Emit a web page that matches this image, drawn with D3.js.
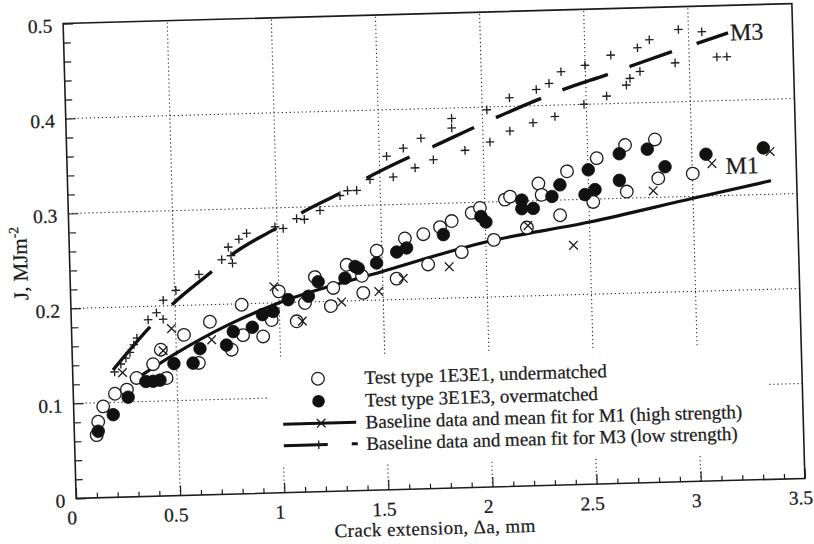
<!DOCTYPE html>
<html><head><meta charset="utf-8">
<script src="https://cdn.jsdelivr.net/npm/d3@7"></script>
<style>
body{margin:0;background:#fff}
svg{display:block}
text{font-family:"Liberation Serif","Times New Roman",serif;fill:#1c1c1c;stroke:#1c1c1c;stroke-width:0.25px}
</style>
</head><body>
<svg id="c" width="814" height="544"></svg>
<script>
// ---- tick labels ----
const xTicks=[0,0.5,1,1.5,2,2.5,3,3.5];
const xTickLabels=["0","0.5","1","1.5","2","2.5","3","3.5"];
const yTicks=[0,0.1,0.2,0.3,0.4,0.5];
const yTickLabels=["0","0.1","0.2","0.3","0.4","0.5"];
const xGrid=[0.5,1,1.5,2,2.5,3];
const yGrid=[0.1,0.2,0.3,0.4];

// ---- series: [crack extension mm, J MJ/m2] ----
const underMatched=[[0.107,0.066],[0.116,0.080],[0.142,0.096],[0.200,0.109],[0.258,0.113],[0.306,0.125],[0.387,0.139],[0.426,0.154],[0.450,0.124],[0.539,0.169],[0.607,0.139],[0.665,0.182],[0.766,0.152],[0.820,0.199],[0.823,0.167],[0.919,0.165],[0.962,0.182],[1.000,0.212],[1.082,0.180],[1.124,0.199],[1.175,0.226],[1.248,0.195],[1.262,0.214],[1.329,0.238],[1.405,0.208],[1.401,0.226],[1.475,0.252],[1.567,0.222],[1.612,0.264],[1.701,0.268],[1.720,0.236],[1.782,0.275],[1.839,0.281],[1.883,0.248],[1.936,0.289],[1.976,0.294],[2.039,0.260],[2.097,0.302],[2.122,0.305],[2.199,0.272],[2.260,0.318],[2.274,0.306],[2.360,0.284],[2.399,0.330],[2.521,0.297],[2.543,0.343],[2.681,0.356],[2.683,0.307],[2.825,0.361],[2.836,0.320],[3.002,0.324]];
const overMatched=[[0.115,0.070],[0.189,0.087],[0.263,0.105],[0.350,0.121],[0.385,0.121],[0.418,0.122],[0.487,0.139],[0.579,0.139],[0.614,0.154],[0.742,0.157],[0.776,0.171],[0.868,0.175],[0.918,0.188],[0.970,0.191],[1.044,0.203],[1.141,0.206],[1.190,0.221],[1.319,0.224],[1.369,0.236],[1.384,0.234],[1.473,0.239],[1.571,0.250],[1.619,0.254],[1.797,0.267],[1.980,0.285],[2.003,0.279],[2.178,0.301],[2.177,0.292],[2.232,0.292],[2.323,0.304],[2.363,0.316],[2.501,0.331],[2.482,0.305],[2.531,0.310],[2.652,0.347],[2.649,0.319],[2.787,0.351],[2.870,0.332],[3.068,0.344],[3.344,0.349]];
const baselineM1=[[0.239,0.131],[0.437,0.153],[0.480,0.176],[0.671,0.163],[0.977,0.217],[1.109,0.180],[1.300,0.199],[1.480,0.209],[1.599,0.222],[1.821,0.233],[2.204,0.274],[2.420,0.252],[2.810,0.307],[3.095,0.334],[3.376,0.345]];
const baselineM3=[[0.201,0.132],[0.232,0.140],[0.257,0.146],[0.277,0.152],[0.297,0.160],[0.313,0.167],[0.369,0.186],[0.410,0.193],[0.441,0.186],[0.444,0.206],[0.506,0.216],[0.619,0.232],[0.730,0.247],[0.763,0.260],[0.775,0.251],[0.781,0.243],[0.815,0.268],[0.853,0.274],[0.990,0.280],[1.029,0.278],[1.095,0.288],[1.132,0.287],[1.208,0.296],[1.306,0.311],[1.343,0.316],[1.387,0.316],[1.452,0.327],[1.535,0.351],[1.564,0.329],[1.616,0.359],[1.670,0.338],[1.702,0.369],[1.759,0.346],[1.852,0.389],[1.851,0.379],[1.912,0.355],[2.022,0.397],[2.033,0.363],[2.132,0.409],[2.130,0.374],[2.242,0.382],[2.262,0.417],[2.324,0.423],[2.348,0.388],[2.383,0.435],[2.499,0.441],[2.489,0.400],[2.599,0.408],[2.624,0.451],[2.695,0.419],[2.713,0.426],[2.762,0.433],[2.753,0.458],[2.811,0.466],[2.932,0.441],[2.952,0.476],[3.064,0.473],[3.133,0.446],[3.181,0.446]];
const fitM1=[[0.31,0.125],[0.5,0.150],[0.75,0.178],[1.0,0.200],[1.5,0.230],[2.0,0.258],[2.5,0.276],[3.0,0.298],[3.37,0.314]];
const fitM3=[[0.194,0.134],[0.376,0.178],[0.485,0.201],[0.682,0.235],[0.78,0.252],[1.0,0.279],[1.12,0.294],[1.31,0.314],[1.44,0.329],[1.65,0.350],[1.76,0.360],[1.96,0.379],[2.07,0.389],[2.29,0.408],[2.39,0.416],[2.61,0.431],[2.72,0.439],[2.92,0.453],[3.04,0.461],[3.19,0.471]];
const legendLabels=["Test type 1E3E1, undermatched","Test type 3E1E3, overmatched","Baseline data and mean fit for M1 (high strength)","Baseline data and mean fit for M3 (low strength)"];
const curveLabels=[{t:"M3",x:3.199,y:0.463},{t:"M1",x:3.16,y:0.3226}];

// ---- layout ----
const m={l:69.5,t:13.5,w:729,h:475};
const ink="#1c1c1c";
const svg=d3.select("#c");
svg.append("rect").attr("width",814).attr("height",544).attr("fill","#fff");
const g=svg.append("g").attr("transform","rotate(-1.57,434,251)");
const x=d3.scaleLinear().domain([0,3.5]).range([m.l,m.l+m.w]);
const y=d3.scaleLinear().domain([0,0.5]).range([m.t+m.h,m.t]);

// grid
const grid=g.append("g").attr("stroke","#333").attr("stroke-width",1.1).attr("stroke-dasharray","1.3,2.7");
grid.selectAll("line.v").data(xGrid).join("line").attr("x1",d=>x(d)).attr("x2",d=>x(d)).attr("y1",y(0)).attr("y2",y(0.5));
grid.selectAll("line.h").data(yGrid).join("line").attr("y1",d=>y(d)).attr("y2",d=>y(d)).attr("x1",x(0)).attr("x2",x(3.5));

// legend blank area (covers grid)
g.append("rect").attr("x",x(0.93)).attr("y",y(0.143)).attr("width",x(3.33)-x(0.93)).attr("height",y(0.0275)-y(0.143)).attr("fill","#fff");

// axes ticks
const minorX=d3.range(0,35.5,1).map(d=>d/10).filter(d=>Math.abs(d*2-Math.round(d*2))>1e-6);
const minorY=d3.range(0,25.5,1).map(d=>d/50).filter(d=>Math.abs(d*10-Math.round(d*10))>1e-6);
function styleAxis(sel){sel.select(".domain").remove();sel.selectAll("line").attr("stroke",ink).attr("stroke-width",1.2);}
g.append("g").attr("transform",`translate(0,${y(0)})`).call(d3.axisBottom(x).tickValues(minorX).tickSize(-5).tickFormat("")).call(styleAxis);
g.append("g").attr("transform",`translate(${x(0)},0)`).call(d3.axisLeft(y).tickValues(minorY).tickSize(-7).tickFormat("")).call(styleAxis);
const xa=g.append("g").attr("transform",`translate(0,${y(0)})`).call(d3.axisBottom(x).tickValues(xTicks).tickSize(-10).tickPadding(12).tickFormat((d,i)=>xTickLabels[i])).call(styleAxis);
xa.selectAll("text").attr("font-size",19.5).attr("fill",ink).attr("dx",-5).attr("font-family","Liberation Serif");
const ya=g.append("g").attr("transform",`translate(${x(0)},0)`).call(d3.axisLeft(y).tickValues(yTicks).tickSize(-10).tickPadding(11).tickFormat((d,i)=>yTickLabels[i])).call(styleAxis);
ya.selectAll("text").attr("font-size",19.5).attr("fill",ink).attr("dy","0.42em").attr("font-family","Liberation Serif");

// frame
g.append("rect").attr("x",x(0)).attr("y",y(0.5)).attr("width",x(3.5)-x(0)).attr("height",y(0)-y(0.5)).attr("fill","none").attr("stroke",ink).attr("stroke-width",1.6);

// fit lines
const line=d3.line().x(d=>x(d[0])).y(d=>y(d[1])).curve(d3.curveMonotoneX);
g.append("path").datum(fitM1).attr("d",line).attr("fill","none").attr("stroke","#111").attr("stroke-width",3.2).attr("stroke-linecap","round");
g.append("path").datum(fitM3).attr("d",line).attr("fill","none").attr("stroke","#111").attr("stroke-width",3.4)
 .attr("stroke-dasharray","57,31,52,26,52,29,43,31,48,25,46,24,49,23,48,23,45,26,40");

// markers
const R=6.3;
g.append("g").selectAll("circle").data(underMatched).join("circle").attr("cx",d=>x(d[0])).attr("cy",d=>y(d[1])).attr("r",R).attr("fill","#fff").attr("stroke",ink).attr("stroke-width",1.3);
g.append("g").selectAll("circle").data(overMatched).join("circle").attr("cx",d=>x(d[0])).attr("cy",d=>y(d[1])).attr("r",R).attr("fill","#111").attr("stroke","#111").attr("stroke-width",0.8);
const crossPath="M-4.3,-4.3L4.3,4.3M-4.3,4.3L4.3,-4.3", plusPath="M-4.3,0H4.3M0,-4.3V4.3";
g.append("g").selectAll("path").data(baselineM1).join("path").attr("transform",d=>`translate(${x(d[0])},${y(d[1])})`).attr("d",crossPath).attr("stroke",ink).attr("stroke-width",1.3).attr("fill","none");
g.append("g").selectAll("path").data(baselineM3).join("path").attr("transform",d=>`translate(${x(d[0])},${y(d[1])})`).attr("d",plusPath).attr("stroke",ink).attr("stroke-width",1.3).attr("fill","none");

// curve labels
g.selectAll("text.cl").data(curveLabels).join("text").attr("class","cl").attr("x",d=>x(d.x)).attr("y",d=>y(d.y)).attr("font-size",24).text(d=>d.t);

// legend
const lg=g.append("g");
const rows=[375.5,398,420,441.5], sx=314.5, lx0=278.5, lx1=351.5, tx=361;
lg.append("circle").attr("cx",sx).attr("cy",rows[0]).attr("r",R).attr("fill","#fff").attr("stroke",ink).attr("stroke-width",1.3);
lg.append("circle").attr("cx",sx).attr("cy",rows[1]).attr("r",R).attr("fill","#111");
lg.append("line").attr("x1",lx0).attr("x2",lx1).attr("y1",rows[2]).attr("y2",rows[2]).attr("stroke","#111").attr("stroke-width",3);
lg.append("path").attr("transform",`translate(${sx+2},${rows[2]})`).attr("d",crossPath).attr("stroke",ink).attr("stroke-width",1.3);
lg.append("line").attr("x1",lx0).attr("x2",lx0+74).attr("y1",rows[3]).attr("y2",rows[3]).attr("stroke","#111").attr("stroke-width",3).attr("stroke-dasharray","44,24,6");
lg.append("path").attr("transform",`translate(${sx-1},${rows[3]})`).attr("d",plusPath).attr("stroke",ink).attr("stroke-width",1.3);
lg.selectAll("text").data(legendLabels).join("text").attr("x",tx).attr("y",(d,i)=>rows[i]).attr("dy","0.34em").attr("font-size",19).text(d=>d);

// axis titles
g.append("text").attr("x",427.5).attr("y",534.5).attr("text-anchor","middle").attr("font-size",19).attr("letter-spacing",0.4).text("Crack extension, Δa, mm");
const yt=g.append("text").attr("transform","translate(27,252) rotate(-90)").attr("text-anchor","middle").attr("font-size",21);
yt.append("tspan").text("J, MJm");
yt.append("tspan").attr("font-size",14).attr("dy",-8).text("-2");
</script>
</body></html>
